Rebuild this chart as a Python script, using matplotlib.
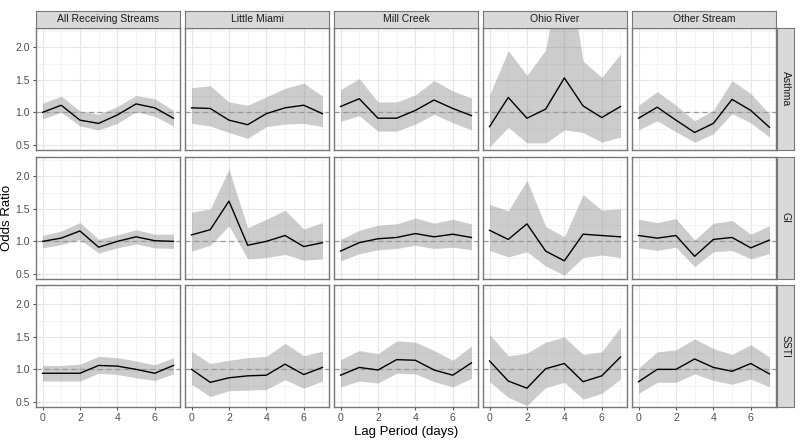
import matplotlib
matplotlib.use("Agg")
import matplotlib.pyplot as plt

plt.rcParams['font.family'] = ['Liberation Sans', 'DejaVu Sans']

lags = [0, 1, 2, 3, 4, 5, 6, 7]
streams = ["All Receiving Streams", "Little Miami", "Mill Creek", "Ohio River", "Other Stream"]
outcomes = ["Asthma", "GI", "SSTI"]

# odds ratios and 95% limits, one list per stream (lags 0..7)
asthma_or = {
    "All Receiving Streams": [1.00, 1.11, 0.88, 0.83, 0.96, 1.13, 1.07, 0.91],
    "Little Miami": [1.07, 1.06, 0.88, 0.81, 0.98, 1.07, 1.11, 0.98],
    "Mill Creek": [1.09, 1.21, 0.91, 0.91, 1.03, 1.19, 1.06, 0.95],
    "Ohio River": [0.78, 1.23, 0.91, 1.05, 1.53, 1.10, 0.92, 1.09],
    "Other Stream": [0.91, 1.08, 0.88, 0.69, 0.83, 1.20, 1.03, 0.77],
}
asthma_lo = {
    "All Receiving Streams": [0.90, 1.00, 0.79, 0.73, 0.83, 1.01, 0.94, 0.79],
    "Little Miami": [0.83, 0.79, 0.69, 0.60, 0.78, 0.82, 0.83, 0.78],
    "Mill Creek": [0.86, 0.95, 0.71, 0.71, 0.82, 0.97, 0.84, 0.73],
    "Ohio River": [0.47, 0.77, 0.53, 0.53, 0.73, 0.69, 0.54, 0.62],
    "Other Stream": [0.73, 0.87, 0.70, 0.54, 0.67, 0.98, 0.84, 0.62],
}
asthma_hi = {
    "All Receiving Streams": [1.14, 1.25, 1.02, 0.97, 1.09, 1.26, 1.21, 1.03],
    "Little Miami": [1.38, 1.41, 1.16, 1.11, 1.24, 1.37, 1.45, 1.25],
    "Mill Creek": [1.35, 1.52, 1.16, 1.16, 1.27, 1.49, 1.33, 1.22],
    "Ohio River": [1.27, 1.95, 1.57, 1.96, 3.60, 1.79, 1.54, 1.90],
    "Other Stream": [1.11, 1.32, 1.11, 0.87, 1.03, 1.49, 1.29, 0.97],
}

gi_or = {
    "All Receiving Streams": [1.00, 1.05, 1.16, 0.91, 1.00, 1.07, 1.01, 1.00],
    "Little Miami": [1.10, 1.18, 1.62, 0.94, 1.00, 1.09, 0.92, 0.98],
    "Mill Creek": [0.85, 0.98, 1.04, 1.06, 1.12, 1.07, 1.11, 1.06],
    "Ohio River": [1.17, 1.03, 1.27, 0.85, 0.70, 1.11, 1.09, 1.07],
    "Other Stream": [1.09, 1.05, 1.09, 0.77, 1.03, 1.06, 0.90, 1.02],
}
gi_lo = {
    "All Receiving Streams": [0.90, 0.95, 1.03, 0.82, 0.90, 0.96, 0.90, 0.89],
    "Little Miami": [0.85, 0.94, 1.24, 0.73, 0.75, 0.80, 0.71, 0.73],
    "Mill Creek": [0.70, 0.81, 0.87, 0.89, 0.94, 0.89, 0.91, 0.87],
    "Ohio River": [0.86, 0.76, 0.84, 0.62, 0.48, 0.75, 0.79, 0.75],
    "Other Stream": [0.90, 0.86, 0.91, 0.61, 0.84, 0.86, 0.73, 0.81],
}
gi_hi = {
    "All Receiving Streams": [1.09, 1.16, 1.29, 1.03, 1.10, 1.18, 1.11, 1.11],
    "Little Miami": [1.45, 1.50, 2.11, 1.21, 1.34, 1.48, 1.19, 1.29],
    "Mill Creek": [1.03, 1.17, 1.25, 1.27, 1.36, 1.28, 1.34, 1.27],
    "Ohio River": [1.57, 1.47, 1.94, 1.23, 1.07, 1.72, 1.48, 1.50],
    "Other Stream": [1.34, 1.29, 1.35, 1.02, 1.28, 1.32, 1.11, 1.24],
}

ssti_or = {
    "All Receiving Streams": [0.94, 0.94, 0.94, 1.06, 1.05, 1.00, 0.94, 1.06],
    "Little Miami": [1.00, 0.80, 0.87, 0.90, 0.91, 1.08, 0.92, 1.03],
    "Mill Creek": [0.91, 1.03, 0.99, 1.15, 1.14, 0.99, 0.91, 1.10],
    "Ohio River": [1.13, 0.82, 0.71, 1.01, 1.09, 0.81, 0.90, 1.19],
    "Other Stream": [0.81, 1.00, 1.00, 1.16, 1.03, 0.97, 1.09, 0.93],
}
ssti_lo = {
    "All Receiving Streams": [0.82, 0.82, 0.82, 0.94, 0.92, 0.87, 0.83, 0.93],
    "Little Miami": [0.77, 0.58, 0.67, 0.68, 0.69, 0.84, 0.71, 0.82],
    "Mill Creek": [0.73, 0.82, 0.79, 0.94, 0.93, 0.81, 0.73, 0.86],
    "Ohio River": [0.81, 0.57, 0.44, 0.72, 0.80, 0.54, 0.63, 0.85],
    "Other Stream": [0.63, 0.80, 0.80, 0.93, 0.83, 0.77, 0.85, 0.73],
}
ssti_hi = {
    "All Receiving Streams": [1.06, 1.06, 1.08, 1.20, 1.18, 1.13, 1.07, 1.18],
    "Little Miami": [1.28, 1.09, 1.14, 1.18, 1.20, 1.40, 1.21, 1.28],
    "Mill Creek": [1.15, 1.29, 1.24, 1.44, 1.42, 1.29, 1.14, 1.36],
    "Ohio River": [1.54, 1.21, 1.25, 1.42, 1.50, 1.23, 1.27, 1.65],
    "Other Stream": [1.02, 1.27, 1.30, 1.47, 1.32, 1.23, 1.38, 1.19],
}

series = {
    "Asthma": (asthma_or, asthma_lo, asthma_hi),
    "GI": (gi_or, gi_lo, gi_hi),
    "SSTI": (ssti_or, ssti_lo, ssti_hi),
}

W, H = 800, 440
fig = plt.figure(figsize=(8, 4.4), dpi=100)

col_left = [36, 185, 334, 483, 632]
col_w = 144
row_top = [28, 157, 285]
row_h = 122
border = '#777777'
strip_fill = '#d9d9d9'


def px_axes(x, y, w, h):
    # pixel box (top-left origin) -> figure axes
    return fig.add_axes([x / W, 1 - (y + h) / H, w / W, h / H])


for r, outcome in enumerate(outcomes):
    est, lo, hi = series[outcome]
    for c, stream in enumerate(streams):
        ax = px_axes(col_left[c], row_top[r], col_w, row_h)
        ax.set_xlim(-0.35, 7.35)
        ax.set_ylim(0.42, 2.30)
        ax.set_xticks([0, 2, 4, 6])
        ax.set_xticks([1, 3, 5, 7], minor=True)
        ax.set_yticks([0.5, 1.0, 1.5, 2.0])
        ax.set_yticks([0.75, 1.25, 1.75, 2.25], minor=True)
        ax.grid(which='major', color='#e6e6e6', lw=0.8)
        ax.grid(which='minor', color='#f0f0f0', lw=0.5)
        ax.set_axisbelow(True)
        ax.fill_between(lags, lo[stream], hi[stream], color='grey', alpha=0.4, lw=0)
        ax.axhline(1.0, color='#999999', lw=0.9, ls=(0, (4, 3)))
        ax.plot(lags, est[stream], color='black', lw=1.0)
        for s in ax.spines.values():
            s.set_color(border)
            s.set_linewidth(1.0)
        ax.tick_params(which='major', length=2.5, color='#555555', labelsize=7.5,
                       labelcolor='#4d4d4d', pad=2)
        ax.tick_params(which='minor', length=0)
        if c != 0:
            ax.tick_params(axis='y', which='both', length=0, labelleft=False)
        else:
            ax.set_yticklabels(['0.5', '1.0', '1.5', '2.0'])
        if r != 2:
            ax.tick_params(axis='x', which='both', length=0, labelbottom=False)

        if r == 0:
            st = px_axes(col_left[c], 11, col_w, 17)
            st.set_facecolor(strip_fill)
            st.set_xticks([])
            st.set_yticks([])
            for s in st.spines.values():
                s.set_color(border)
            st.text(0.5, 0.5, stream, ha='center', va='center', fontsize=7.5,
                    color='#1a1a1a', transform=st.transAxes)

    rs = px_axes(777, row_top[r], 17, row_h)
    rs.set_facecolor(strip_fill)
    rs.set_xticks([])
    rs.set_yticks([])
    for s in rs.spines.values():
        s.set_color(border)
    rs.text(0.5, 0.5, outcome, ha='center', va='center', rotation=-90, fontsize=7.5,
            color='#1a1a1a', transform=rs.transAxes)

fig.text(406 / W, 1 - 432 / H, 'Lag Period (days)', ha='center', va='center', fontsize=9.5)
fig.text(7 / W, 1 - 218 / H, 'Odds Ratio', ha='center', va='center', rotation=90, fontsize=9.5)

fig.savefig('out.png', dpi=100)
